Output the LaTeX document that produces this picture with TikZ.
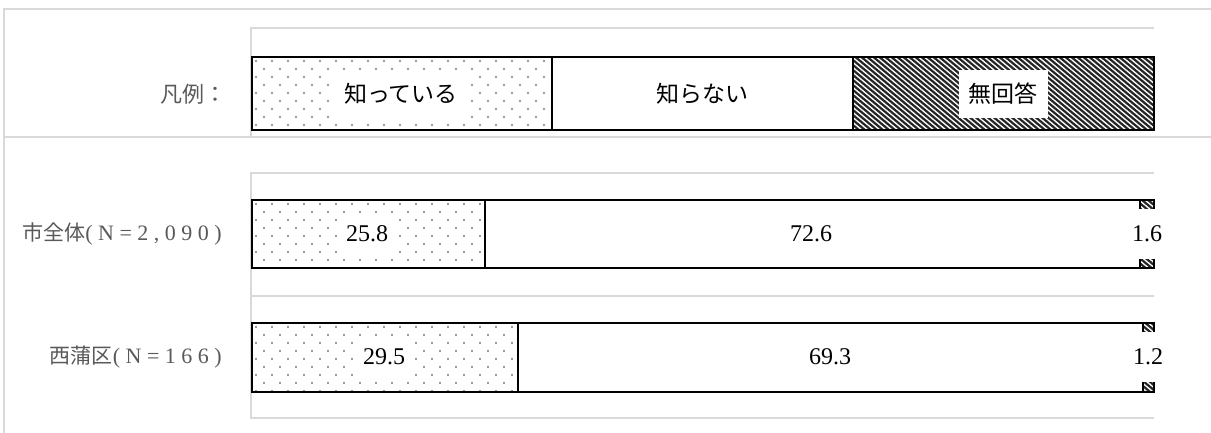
\documentclass[tikz,border=0pt]{standalone}
\usepackage{fontspec}
\setmainfont{Liberation Serif}
\newfontfamily\jp{Noto Sans CJK JP}
\newfontfamily\serls[LetterSpace=25]{Liberation Serif}
\definecolor{framec}{HTML}{D9D9D9}
\definecolor{labc}{HTML}{595959}
\definecolor{dotc}{HTML}{777777}
\tikzset{
  frameline/.style={draw=framec, line width=1.5pt},
  barline/.style={draw=black, line width=2pt},
  rowlabel/.style={anchor=east, inner sep=0pt, text=labc, font=\fontsize{21}{21}\selectfont},
  legtext/.style={fill=white, inner xsep=10pt, inner ysep=0pt, minimum height=48pt, font=\jp\fontsize{23}{23}\selectfont},
  numtext/.style={fill=white, inner xsep=8pt, inner ysep=0pt, minimum height=42pt, font=\fontsize{24}{24}\selectfont},
  smallnum/.style={numtext, minimum height=50pt},
  hatchline/.style={draw=black!85, line width=2.2pt},
}
\newcommand\stipple[4]{%
  \begin{scope}
    \clip (#1,#2) rectangle (#3,#4);
    \foreach \r in {0,...,9} {
      \foreach \c in {0,...,19} {
        \fill[dotc] ({#1+4+16*\c+8*mod(\r,2)},{#2+4+8*\r}) circle[radius=1.2pt];
      }
    }
  \end{scope}}
\newcommand\hatchfill[4]{%
  \begin{scope}
    \clip (#1,#2) rectangle (#3,#4);
    \fill[white] (#1,#2) rectangle (#3,#4);
    \foreach \k in {-16,...,52} {
      \draw[hatchline] ({#1+6*\k},{#2-2}) -- ++(90,75);
    }
  \end{scope}}
\begin{document}
\begin{tikzpicture}[x=1pt,y=-1pt]
\useasboundingbox (0,0) rectangle (1211,433);
% outer frame
\draw[frameline] (1211,9) -- (4,9) -- (4,433);
\draw[frameline] (4,137) -- (1211,137);
% legend panel
\draw[frameline] (1154,28) -- (251,28) -- (251,137);
% row panels
\draw[frameline] (1154,173) -- (251,173) -- (251,296) -- (1154,296);
\draw[frameline] (251,296) -- (251,418) -- (1154,418);
% legend bar
\stipple{252}{57}{552}{130}
\hatchfill{853}{57}{1154}{130}
\draw[barline] (252,57) rectangle (1154,130);
\draw[barline] (552,57) -- (552,130);
\draw[barline] (853,57) -- (853,130);
\node[legtext] (lknow) at (401,94) {知っている};
\node[legtext] (lnot) at (702,94) {知らない};
\node[legtext] (lna) at (1003,94) {無回答};
\node[rowlabel] (legtitle) at (227,94) {\jp\fontsize{22}{22}\selectfont 凡例：};
% row 1
\stipple{252}{200}{484.7}{268}
\hatchfill{1139.6}{200}{1154}{268}
\draw[barline] (252,200) rectangle (1154,268);
\draw[barline] (484.7,200) -- (484.7,268);
\draw[barline] (1139.6,200) -- (1139.6,268);
\node[numtext] (a1) at (367,234) {25.8};
\node[numtext] (a2) at (811,234) {72.6};
\node[smallnum] (a3) at (1147,234) {1.6};
\node[rowlabel] (r1) at (222,234) {{\jp 市全体}{\serls\fontsize{22}{22}\selectfont (N=2,090)}};
% row 2
\stipple{252}{323}{518.1}{392}
\hatchfill{1143}{323}{1154}{392}
\draw[barline] (252,323) rectangle (1154,392);
\draw[barline] (518.1,323) -- (518.1,392);
\draw[barline] (1143,323) -- (1143,392);
\node[numtext] (b1) at (384,357) {29.5};
\node[numtext] (b2) at (830,357) {69.3};
\node[smallnum] (b3) at (1148,357) {1.2};
\node[rowlabel] (r2) at (222,357) {{\jp 西蒲区}{\serls\fontsize{22}{22}\selectfont (N=166)}};
\end{tikzpicture}
\end{document}
